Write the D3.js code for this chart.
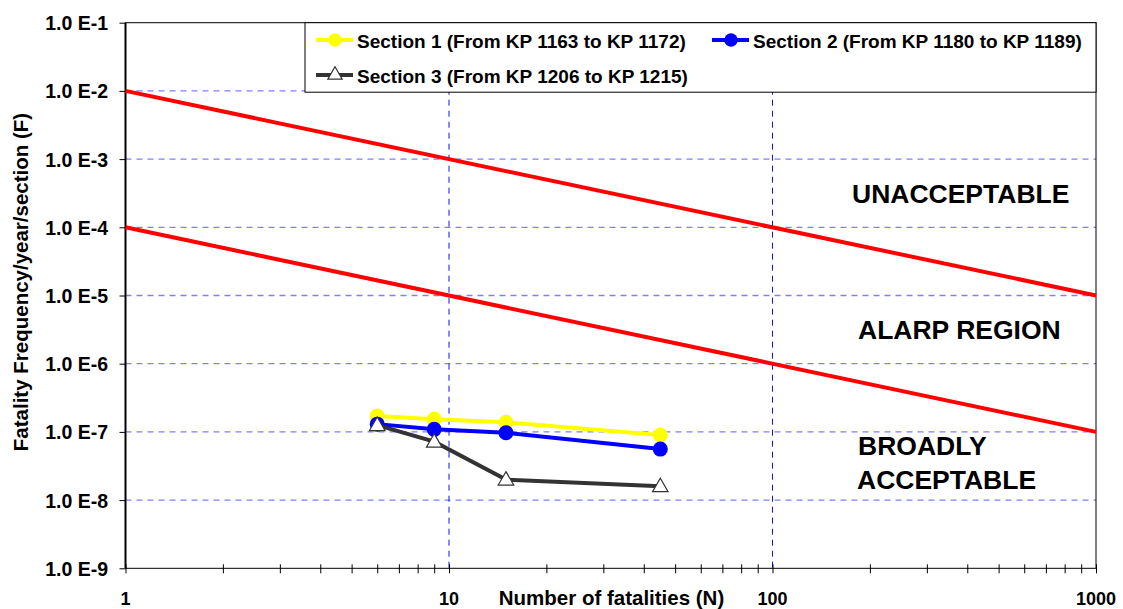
<!DOCTYPE html>
<html><head><meta charset="utf-8">
<script src="https://cdn.jsdelivr.net/npm/d3@7"></script>
<style>body{margin:0;background:#fff}svg{display:block;font-family:Arial,"Liberation Sans",sans-serif}</style>
</head><body><svg id="c" width="1123" height="609"></svg>
<script>
const fatalities = [6, 9, 15, 45];
const section1 = [1.71e-7, 1.53e-7, 1.38e-7, 0.9e-7];
const section2 = [1.3e-7, 1.09e-7, 0.97e-7, 0.56e-7];
const section3 = [1.26e-7, 0.72e-7, 0.20e-7, 0.16e-7];
const seriesNames = ["Section 1 (From KP 1163 to KP 1172)", "Section 2 (From KP 1180 to KP 1189)", "Section 3 (From KP 1206 to KP 1215)"];
const upperLimit = [[1, 1e-2], [1000, 1e-5]];
const lowerLimit = [[1, 1e-4], [1000, 1e-7]];
const yTicks = [1e-1, 1e-2, 1e-3, 1e-4, 1e-5, 1e-6, 1e-7, 1e-8, 1e-9];
const yTickLabels = ["1.0 E-1","1.0 E-2","1.0 E-3","1.0 E-4","1.0 E-5","1.0 E-6","1.0 E-7","1.0 E-8","1.0 E-9"];
const xTicks = [1, 10, 100, 1000];
const regionLabels = ["UNACCEPTABLE", "ALARP REGION", "BROADLY", "ACCEPTABLE"];

const svg = d3.select("#c");
const L = 125.5, R = 1096, T = 22.7, B = 568.3;
const x = d3.scaleLog().domain([1, 1000]).range([L, R]);
const y = d3.scaleLog().domain([1e-9, 1e-1]).range([B, T]);

// horizontal grid
svg.append("g").selectAll("line").data(yTicks.slice(1, -1)).join("line")
  .attr("x1", L).attr("x2", R).attr("y1", d => y(d)).attr("y2", d => y(d))
  .attr("stroke", "#7f7fff").attr("stroke-width", 1.3).attr("stroke-dasharray", "6,5");
// vertical grid
svg.append("g").selectAll("line").data([10, 100]).join("line")
  .attr("x1", d => x(d)).attr("x2", d => x(d)).attr("y1", T).attr("y2", B)
  .attr("stroke", "#1010ee").attr("stroke-width", 1).attr("stroke-dasharray", "6,5");

// frame
svg.append("rect").attr("x", L).attr("y", T).attr("width", R - L).attr("height", B - T)
  .attr("fill", "none").attr("stroke", "#000").attr("stroke-width", 1);
svg.append("line").attr("x1", L).attr("x2", L).attr("y1", T).attr("y2", B).attr("stroke", "#000").attr("stroke-width", 2);

// x axis
const xAxis = d3.axisBottom(x).tickValues(d3.range(0, 3).flatMap(e => d3.range(1, 10).map(m => m * Math.pow(10, e))).concat([1000]))
  .tickSize(4).tickFormat("");
const gx = svg.append("g").attr("transform", `translate(0,${B})`).call(xAxis);
gx.select(".domain").remove();
gx.selectAll(".tick line").attr("y1", -4).attr("y2", 5).attr("stroke", "#000");
svg.append("g").selectAll("text").data(xTicks).join("text")
  .attr("x", d => x(d)).attr("y", 605).attr("text-anchor", "middle")
  .attr("font-size", 18).attr("font-weight", "bold").text(d => d);
svg.append("text").attr("x", 611.5).attr("y", 605).attr("text-anchor", "middle")
  .attr("font-size", 20.5).attr("font-weight", "bold").text("Number of fatalities (N)");

// y axis
const yAxis = d3.axisLeft(y).tickValues(yTicks).tickSize(6).tickFormat((d, i) => yTickLabels[i]);
const gy = svg.append("g").attr("transform", `translate(${L},0)`).call(yAxis);
gy.select(".domain").remove();
gy.selectAll(".tick line").attr("stroke", "#000");
gy.selectAll(".tick text").attr("x", -17.5).attr("dy", "0.36em").attr("font-size", 19.5).attr("font-weight", "bold")
  .attr("font-family", "Arial, 'Liberation Sans', sans-serif").attr("fill", "#000");
svg.append("text").attr("transform", "translate(28,282) rotate(-90)").attr("text-anchor", "middle")
  .attr("font-size", 20.5).attr("font-weight", "bold").text("Fatality Frequency/year/section (F)");

// limit lines
const line = d3.line().x(d => x(d[0])).y(d => y(d[1]));
[upperLimit, lowerLimit].forEach(l => svg.append("path").attr("d", line(l))
  .attr("fill", "none").attr("stroke", "#ff0000").attr("stroke-width", 4));

// region labels
const rl = svg.append("g").attr("font-size", 26.5).attr("font-weight", "bold");
rl.append("text").attr("x", 852).attr("y", 203).text(regionLabels[0]);
rl.append("text").attr("x", 858).attr("y", 339).text(regionLabels[1]);
rl.append("text").attr("x", 858).attr("y", 455).text(regionLabels[2]);
rl.append("text").attr("x", 857).attr("y", 489).text(regionLabels[3]);

// series
const series = [
  {vals: section1, color: "#ffff00", marker: "circle"},
  {vals: section2, color: "#0000ff", marker: "circle"},
  {vals: section3, color: "#333333", marker: "triangle"}
];
const tri = d3.symbol().type(d3.symbolTriangle).size(105);
const sline = d3.line().x(d => x(d[0])).y(d => y(d[1]));
series.forEach(s => {
  const pts = fatalities.map((f, i) => [f, s.vals[i]]);
  svg.append("path").attr("d", sline(pts)).attr("fill", "none").attr("stroke", s.color).attr("stroke-width", 4);
  if (s.marker === "circle") {
    svg.append("g").selectAll("circle").data(pts).join("circle")
      .attr("cx", d => x(d[0])).attr("cy", d => y(d[1])).attr("r", 7.5).attr("fill", s.color);
  } else {
    svg.append("g").selectAll("path").data(pts).join("path")
      .attr("transform", d => `translate(${x(d[0])},${y(d[1]) + 1})`).attr("d", tri)
      .attr("fill", "#fff").attr("stroke", "#333").attr("stroke-width", 1.2);
  }
});

// legend
const lg = svg.append("g");
lg.append("rect").attr("x", 305).attr("y", T).attr("width", R - 305).attr("height", 69.5)
  .attr("fill", "#fff").attr("stroke", "#000").attr("stroke-width", 1);
const legItems = [
  {x: 316, y: 40, s: series[0], name: seriesNames[0]},
  {x: 712, y: 40, s: series[1], name: seriesNames[1]},
  {x: 316, y: 75, s: series[2], name: seriesNames[2]}
];
legItems.forEach(it => {
  lg.append("line").attr("x1", it.x).attr("x2", it.x + 37).attr("y1", it.y).attr("y2", it.y)
    .attr("stroke", it.s.color).attr("stroke-width", 4);
  if (it.s.marker === "circle") {
    lg.append("circle").attr("cx", it.x + 19).attr("cy", it.y).attr("r", 6.7).attr("fill", it.s.color);
  } else {
    lg.append("path").attr("transform", `translate(${it.x + 19},${it.y})`).attr("d", d3.symbol().type(d3.symbolTriangle).size(90))
      .attr("fill", "#fff").attr("stroke", "#333").attr("stroke-width", 1.2);
  }
  lg.append("text").attr("x", it.x + 41).attr("y", it.y + 8).attr("font-size", 19).attr("font-weight", "bold").text(it.name);
});
</script></body></html>
